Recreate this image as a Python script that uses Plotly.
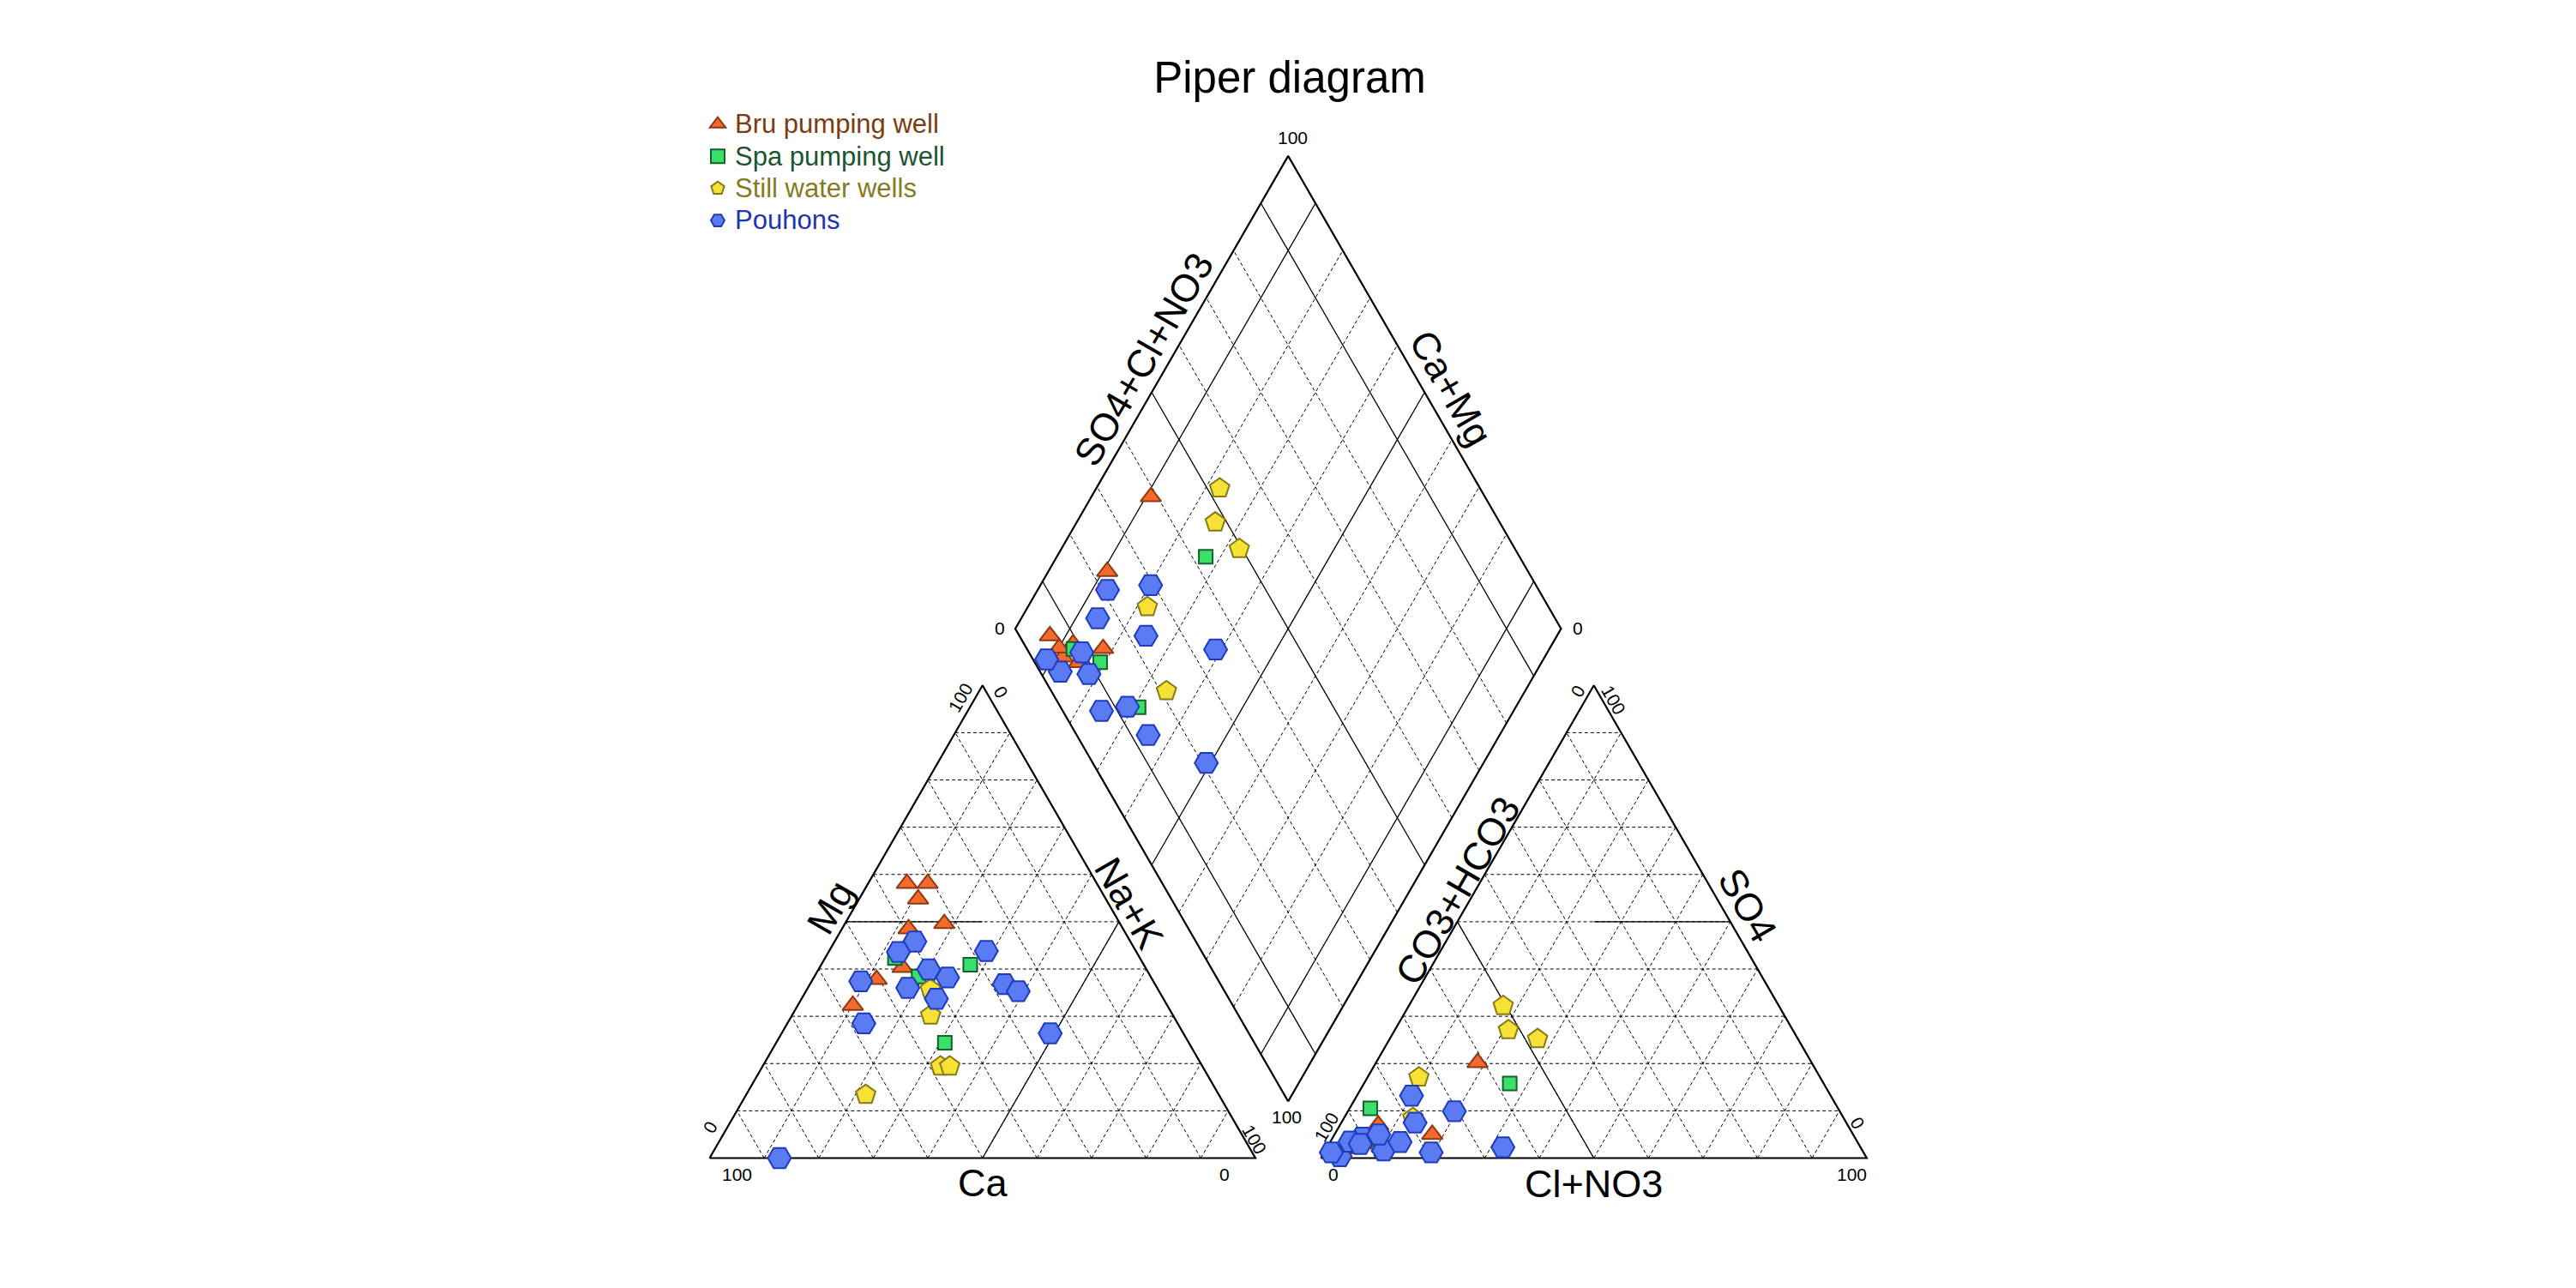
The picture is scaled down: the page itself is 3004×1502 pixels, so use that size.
import numpy as np
import plotly.graph_objects as go

# ---------------- data (percent of meq/l) ----------------
series_names = ["Bru pumping well", "Spa pumping well", "Still water wells", "Pouhons"]

bru_ca   = [32.2, 34.8, 31.0, 34.4, 39.3, 50.5, 57.6, 44.5]
bru_mg   = [49.6, 58.1, 58.1, 54.8, 48.5, 37.8, 32.3, 40.3]
bru_nak  = [18.2, 7.1, 10.9, 10.8, 12.2, 11.7, 10.1, 15.2]
bru_hco3 = [86.0, 94.4, 61.2, 77.1, 91.0, 94.3, 94.0, 92.0]
bru_so4  = [7.0, 2.0, 20.2, 5.0, 3.0, 2.0, 2.5, 3.0]
bru_cl   = [7.0, 3.6, 18.6, 17.9, 6.0, 3.7, 3.5, 5.0]

spa_ca   = [31.8, 44.9, 42.5, 44.7]
spa_mg   = [40.9, 42.3, 38.4, 24.4]
spa_nak  = [27.3, 12.8, 19.1, 30.9]
spa_hco3 = [57.5, 91.5, 88.0, 85.7]
spa_so4  = [15.8, 3.0, 4.0, 10.5]
spa_cl   = [26.7, 5.5, 8.0, 3.8]

still_ca   = [41.7, 44.4, 48.0, 64.7, 46.3]
still_mg   = [35.7, 30.2, 19.4, 13.4, 19.4]
still_nak  = [22.6, 25.4, 32.6, 21.9, 34.3]
still_hco3 = [47.7, 52.1, 50.5, 73.5, 78.9]
still_so4  = [25.2, 27.1, 32.2, 17.1, 8.5]
still_cl   = [27.1, 20.8, 17.3, 9.4, 12.6]

pou_ca   = [87.2, 39.5, 43.6, 27.4, 39.9, 37.3, 53.6, 45.7, 41.6, 27.6, 25.8, 57.5, 24.4]
pou_mg   = [0.0, 45.8, 43.6, 43.8, 39.9, 38.2, 37.4, 36.0, 33.7, 36.8, 35.3, 28.5, 26.4]
pou_nak  = [12.8, 14.7, 12.8, 28.8, 20.2, 24.5, 9.0, 18.3, 24.7, 35.6, 38.9, 14.0, 49.2]
pou_hco3 = [96.3, 90.3, 79.0, 87.7, 70.6, 92.9, 97.5, 91.3, 76.8, 86.9, 65.5, 83.8, 79.2]
pou_so4  = [0.4, 4.3, 7.5, 1.6, 9.9, 3.5, 1.2, 3.0, 13.2, 5.0, 2.3, 3.4, 1.2]
pou_cl   = [3.3, 5.4, 13.5, 10.7, 19.5, 3.6, 1.3, 5.7, 10.0, 8.1, 32.2, 12.8, 19.6]

tick_lo, tick_hi = "0", "100"

# ---------------- styles ----------------
FONT = "Liberation Sans, Arial, sans-serif"
marker_symbols = ["triangle-up", "square", "pentagon", "hexagon2"]
marker_sizes = [21, 16, 24, 27]
marker_fill = ["#F46A2C", "#3BE06B", "#F8E136", "#5B7BF3"]
marker_edge = ["#8C3A12", "#16602B", "#857A16", "#1E3BBE"]
text_colors = ["#7D3B12", "#1A5530", "#857A22", "#2033B0"]

H = np.sqrt(3) / 2
G = 0.12  # gap between the two triangles (in side units)


def cation_xy(ca, mg, nak):
    ca, mg, nak = map(np.asarray, (ca, mg, nak))
    t = ca + mg + nak
    r, tp = nak / t, mg / t
    return r + tp / 2, H * tp


def anion_xy(hco3, so4, cl):
    hco3, so4, cl = map(np.asarray, (hco3, so4, cl))
    t = hco3 + so4 + cl
    r, tp = cl / t, so4 / t
    return 1 + G + r + tp / 2, H * tp


def diamond_xy(ca, mg, nak, hco3, so4, cl):
    ca, mg, nak, hco3, so4, cl = map(np.asarray, (ca, mg, nak, hco3, so4, cl))
    n = nak / (ca + mg + nak)
    a_ = (so4 + cl) / (hco3 + so4 + cl)
    bx, by = 1 + G / 2, G * H
    a, b = 1 - n, a_
    return bx + (b - a) * 0.5, by + (a + b) * H


# ---------------- geometry (frames & grids) ----------------
dash_x, dash_y, solid_x, solid_y, out_x, out_y = [], [], [], [], [], []


def seg(lx, ly, p, q):
    lx += [p[0], q[0], None]
    ly += [p[1], q[1], None]


fracs = [k / 10 for k in range(1, 10)]
for ox in (0.0, 1 + G):
    out_x += [ox, ox + 1, ox + 0.5, ox, None]
    out_y += [0, 0, H, 0, None]
    for f in fracs:
        seg(dash_x, dash_y, (ox + f / 2, H * f), (ox + 1 - f / 2, H * f))
        seg(dash_x, dash_y, (ox + f, 0), (ox + f + (1 - f) / 2, H * (1 - f)))
        seg(dash_x, dash_y, (ox + 1 - f, 0), (ox + (1 - f) / 2, H * (1 - f)))

# facies lines in triangles
seg(solid_x, solid_y, (0.5, 0), (0.75, H / 2))
seg(solid_x, solid_y, (0.25, H / 2), (0.5, H / 2))
seg(solid_x, solid_y, (1 + G + 0.5, 0), (1 + G + 0.25, H / 2))
seg(solid_x, solid_y, (1 + G + 0.5, H / 2), (1 + G + 0.75, H / 2))

# diamond
Bx, By = 1 + G / 2, G * H
u = (-0.5, H)
v = (0.5, H)


def dpt(a, b):
    return (Bx + a * u[0] + b * v[0], By + a * u[1] + b * v[1])


corners = [dpt(0, 0), dpt(1, 0), dpt(1, 1), dpt(0, 1), dpt(0, 0)]
out_x += [c[0] for c in corners] + [None]
out_y += [c[1] for c in corners] + [None]
for f in fracs:
    tgt = (solid_x, solid_y) if round(f * 10) in (1, 5, 9) else (dash_x, dash_y)
    seg(tgt[0], tgt[1], dpt(f, 0), dpt(f, 1))
    seg(tgt[0], tgt[1], dpt(0, f), dpt(1, f))

fig = go.Figure()
fig.add_trace(go.Scatter(x=dash_x, y=dash_y, mode="lines", hoverinfo="skip", showlegend=False,
                         line=dict(color="black", width=1, dash="4px,3px")))
fig.add_trace(go.Scatter(x=solid_x, y=solid_y, mode="lines", hoverinfo="skip", showlegend=False,
                         line=dict(color="black", width=1.3)))
fig.add_trace(go.Scatter(x=out_x, y=out_y, mode="lines", hoverinfo="skip", showlegend=False,
                         line=dict(color="black", width=2.2)))

# ---------------- data points ----------------
groups = [
    (bru_ca, bru_mg, bru_nak, bru_hco3, bru_so4, bru_cl),
    (spa_ca, spa_mg, spa_nak, spa_hco3, spa_so4, spa_cl),
    (still_ca, still_mg, still_nak, still_hco3, still_so4, still_cl),
    (pou_ca, pou_mg, pou_nak, pou_hco3, pou_so4, pou_cl),
]
for i, (ca, mg, nak, hco3, so4, cl) in enumerate(groups):
    cx, cy = cation_xy(ca, mg, nak)
    axx, ayy = anion_xy(hco3, so4, cl)
    dx, dy = diamond_xy(ca, mg, nak, hco3, so4, cl)
    xs = np.concatenate([cx, axx, dx])
    ys = np.concatenate([cy, ayy, dy])
    fig.add_trace(go.Scatter(
        x=xs, y=ys, mode="markers",
        name='<span style="color:%s;font-size:31px">%s</span>' % (text_colors[i], series_names[i]),
        marker=dict(symbol=marker_symbols[i], size=marker_sizes[i], color=marker_fill[i],
                    line=dict(color=marker_edge[i], width=2)),
    ))

# ---------------- labels ----------------
ann = []


def label(x, y, text, size, angle=0):
    ann.append(dict(x=x, y=y, xref="x", yref="y", text=text, showarrow=False,
                    textangle=angle, xanchor="center", yanchor="middle",
                    font=dict(family=FONT, size=size, color="black")))


AX = 45
label(0.5, -0.046, "Ca", AX)
label(0.222, 0.46, "Mg", AX, -60)
label(0.769, 0.467, "Na+K", AX, 60)
label(1 + G + 0.5, -0.047, "Cl+NO3", AX)
label(1.371, 0.490, "CO3+HCO3", AX, -60)
label(1.9015, 0.4633, "SO4", AX, 60)
label(0.795, 1.463, "SO4+Cl+NO3", AX, -60)
label(1.358, 1.411, "Ca+Mg", AX, 60)

TK = 21
label(0.051, -0.030, tick_hi, TK)
label(0.944, -0.030, tick_lo, TK)
label(0.0005, 0.057, tick_lo, TK, -60)
label(0.460, 0.843, tick_hi, TK, -60)
label(0.534, 0.853, tick_lo, TK, 60)
label(0.9975, 0.034, tick_hi, TK, 60)
label(1.1424, -0.030, tick_lo, TK)
label(2.0927, -0.030, tick_hi, TK)
label(1.1295, 0.057, tick_hi, TK, -60)
label(1.5912, 0.856, tick_lo, TK, -60)
label(1.6564, 0.839, tick_hi, TK, 60)
label(2.1029, 0.064, tick_lo, TK, 60)
top = dpt(1, 1)
bot = dpt(0, 0)
label(top[0] + 0.008, top[1] + 0.034, tick_hi, TK)
label(bot[0] - 0.002, bot[1] - 0.029, tick_hi, TK)
lv = dpt(1, 0)
rv = dpt(0, 1)
label(lv[0] - 0.028, lv[1] + 0.001, tick_lo, TK)
label(rv[0] + 0.03, rv[1] + 0.001, tick_lo, TK)

# figure sized to fit the page with the default 8px body margin
W, HT = 2988, 1486
OFF = 8
S = 636.5
x0 = 827.5 - OFF
y0 = 1350.5 - OFF
xr = [-x0 / S, (W - x0) / S]
yr = [(y0 - HT) / S, y0 / S]

fig.update_layout(
    width=W, height=HT,
    margin=dict(l=0, r=0, t=0, b=0),
    paper_bgcolor="white", plot_bgcolor="white",
    xaxis=dict(range=xr, visible=False, fixedrange=True),
    yaxis=dict(range=yr, visible=False, fixedrange=True),
    title=dict(text="Piper diagram", x=(1504 - OFF) / W, xanchor="center",
               y=1 - (90 - OFF) / HT, yanchor="middle",
               font=dict(family=FONT, size=51, color="black")),
    legend=dict(x=(817 - OFF) / W, y=1 - (121 - OFF) / HT, xanchor="left", yanchor="top",
                font=dict(family=FONT, size=26.5), bgcolor="rgba(0,0,0,0)",
                itemsizing="trace", tracegroupgap=0),
    annotations=ann,
    showlegend=True,
)

fig.write_html("out.html")
